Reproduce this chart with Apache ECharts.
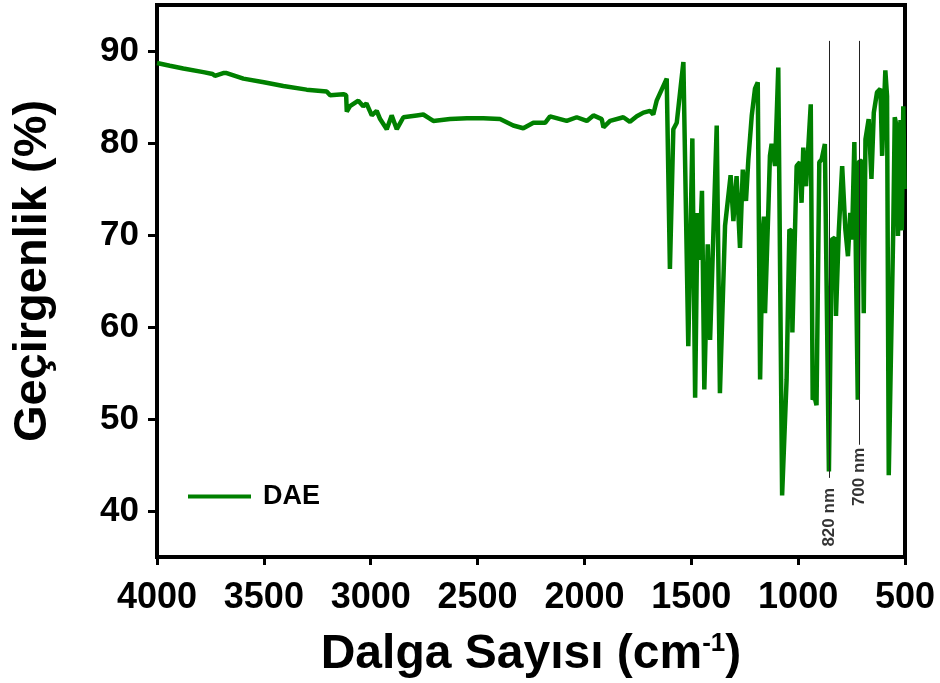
<!DOCTYPE html>
<html>
<head>
<meta charset="utf-8">
<script src="https://cdn.jsdelivr.net/npm/echarts@6/dist/echarts.min.js"></script>
<style>
  html, body { margin: 0; background: #fff; }
  #chart { width: 940px; height: 683px; }
</style>
</head>
<body>
<div id="chart"></div>
<script>
const wavenumbers = [
  4000, 3940, 3877, 3783, 3740, 3729, 3690, 3674, 3596, 3500,
  3409, 3300, 3206, 3190, 3182, 3128, 3115, 3112, 3097, 3058,
  3035, 3020, 2995, 2972, 2956, 2925, 2902, 2878, 2847, 2785,
  2754, 2720, 2707, 2629, 2550, 2473, 2395, 2333, 2286, 2239,
  2184, 2161, 2083, 2036, 1989, 1958, 1919, 1911, 1880, 1818,
  1787, 1755, 1724, 1693, 1678, 1662, 1615, 1600, 1584, 1568,
  1537, 1529, 1514, 1506, 1495, 1482, 1471, 1462, 1450, 1439,
  1423, 1412, 1381, 1366, 1342, 1316, 1303, 1288, 1272, 1259,
  1244, 1233, 1217, 1202, 1189, 1178, 1165, 1160, 1155, 1139,
  1132, 1124, 1108, 1093, 1086, 1075, 1054, 1041, 1030, 1027,
  1007, 992, 984, 976, 963, 941, 932, 924, 914, 901,
  890, 875, 856, 843, 828, 823, 810, 794, 779, 767,
  756, 748, 737, 721, 717, 701, 693, 685, 670, 657,
  646, 631, 615, 607, 592, 584, 576, 555, 548, 540,
  533, 525, 521, 515, 508, 502
];
const transmittance = [
  88.7, 88.4, 88.1, 87.7, 87.5, 87.3, 87.6, 87.6, 87.0, 86.6,
  86.2, 85.8, 85.6, 85.2, 85.1, 85.3, 85.2, 83.4, 84.0, 84.6,
  84.0, 84.3, 83.0, 83.5, 82.6, 81.5, 83.0, 81.5, 82.8, 83.0,
  83.1, 82.6, 82.4, 82.6, 82.7, 82.7, 82.6, 81.9, 81.6, 82.2,
  82.2, 82.9, 82.4, 82.8, 82.4, 83.0, 82.6, 81.7, 82.4, 82.8,
  82.3, 82.9, 83.3, 83.5, 83.1, 84.6, 87.0, 66.3, 81.5, 82.2,
  88.8, 88.6, 57.9, 57.7, 80.5, 52.3, 72.4, 67.3, 74.8, 53.2,
  69.0, 58.6, 81.9, 52.8, 71.0, 76.5, 71.5, 76.4, 68.6, 77.1,
  73.7, 78.2, 83.0, 85.9, 86.6, 54.3, 70.5, 72.0, 61.5, 73.1,
  78.6, 79.9, 77.5, 88.2, 88.0, 41.7, 54.3, 70.6, 70.4, 59.4,
  77.5, 77.9, 73.5, 79.5, 75.3, 84.2, 52.1, 52.5, 51.5, 77.9,
  78.2, 79.9, 44.3, 69.5, 69.7, 61.2, 70.3, 77.5, 70.6, 67.7,
  72.4, 69.5, 80.1, 52.1, 77.9, 78.1, 61.5, 80.4, 82.6, 76.1,
  83.3, 85.5, 85.9, 78.6, 87.9, 85.1, 43.9, 70.6, 82.8, 81.9,
  69.9, 78.6, 82.5, 70.5, 84.0, 75.0
];
const seriesName = "DAE";
// annotation lines: wavenumber, line top / bottom and where the rotated label ends
const markerNames = ["820 nm", "700 nm"];
const markerWaves = [855, 716];
const markerTops = [91.1, 91.1];
const markerBottoms = [43.6, 47.2];
const markerLabelTops = [42.5, 46.9];

const boldFont = '"Liberation Sans", Arial, sans-serif';

const chart = echarts.init(document.getElementById("chart"));
const points = wavenumbers.map((w, i) => [w, transmittance[i]]);

chart.setOption({
  animation: false,
  backgroundColor: "#fff",
  grid: {
    left: 157, right: 35, top: 5, bottom: 126,
    show: true, borderColor: "#000", borderWidth: 4,
    outerBoundsMode: "none"
  },
  legend: {
    data: [seriesName],
    left: 183, top: 478,
    icon: "rect", itemWidth: 63, itemHeight: 4,
    textStyle: { fontSize: 27, fontWeight: "bold", fontFamily: boldFont, color: "#000", padding: [0, 0, 0, 7] }
  },
  xAxis: {
    type: "value", min: 500, max: 4000, interval: 500, inverse: true,
    axisLine: { show: true, lineStyle: { color: "#000", width: 4 } },
    axisTick: { show: true, length: 8, lineStyle: { color: "#000", width: 3 } },
    splitLine: { show: false },
    axisLabel: {
      margin: 23, fontSize: 36, fontWeight: "bold", fontFamily: boldFont, color: "#000",
      hideOverlap: false, showMinLabel: true, showMaxLabel: true,
      formatter: (v) => String(v)
    },
    name: "Dalga Sayısı (cm{sup|-1})",
    nameLocation: "middle", nameGap: 74,
    nameTextStyle: {
      fontSize: 48, fontWeight: "bold", fontFamily: boldFont, color: "#000",
      rich: { sup: { fontSize: 26, fontWeight: "bold", fontFamily: boldFont, color: "#000", verticalAlign: "top" } }
    }
  },
  yAxis: {
    type: "value", min: 35, max: 95,
    axisLine: { show: true, lineStyle: { color: "#000", width: 4 } },
    axisTick: { show: true, length: 9, lineStyle: { color: "#000", width: 3 } },
    splitLine: { show: false },
    axisLabel: { margin: 18, fontSize: 35, fontWeight: "bold", fontFamily: boldFont, color: "#000", showMinLabel: false, showMaxLabel: false },
    name: "Geçirgenlik (%)",
    nameLocation: "middle", nameGap: 100,
    nameTextStyle: { fontSize: 47, fontWeight: "bold", fontFamily: boldFont, color: "#000", padding: [0, 0, 0, 20] }
  },
  series: [
    {
      name: seriesName, type: "line", data: points,
      showSymbol: false, smooth: false,
      lineStyle: { color: "#008000", width: 4.5 },
      itemStyle: { color: "#008000" },
      markLine: {
        silent: true, symbol: ["none", "none"],
        label: { show: false },
        lineStyle: { color: "#222", width: 1, type: "solid" },
        data: markerWaves.map((w, i) => [{ coord: [w, markerTops[i]] }, { coord: [w, markerBottoms[i]] }])
      }
    },
    {
      name: "labels", type: "scatter", silent: true,
      symbolSize: 2, itemStyle: { color: "rgba(0,0,0,0)" },
      data: markerWaves.map((w, i) => [w, markerLabelTops[i], markerNames[i]]),
      label: {
        show: true, position: "inside", rotate: 90, align: "right", verticalAlign: "middle",
        formatter: (p) => p.value[2],
        fontSize: 17, fontWeight: "bold", fontFamily: boldFont, color: "#000"
      }
    }
  ]
});
</script>
</body>
</html>
